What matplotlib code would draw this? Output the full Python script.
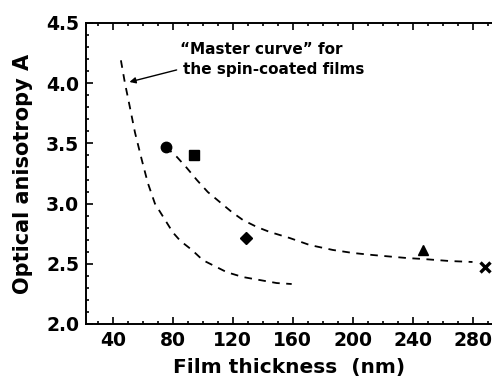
import matplotlib
matplotlib.use('Agg')
import matplotlib.pyplot as plt
from matplotlib.ticker import MultipleLocator, FormatStrFormatter

plt.rcParams['font.family'] = ['DejaVu Sans']
plt.rcParams['font.weight'] = 'bold'

# measured films (thickness nm, anisotropy)
circle_x, circle_y = [75.3], [3.47]
square_x, square_y = [94], [3.40]
diamond_x, diamond_y = [128.7], [2.714]
triangle_x, triangle_y = [246.7], [2.615]
cross_x, cross_y = [288], [2.473]

# "master curve" for spin-coated films
master_x = [45.3, 48, 51.3, 54.7, 59.3, 63.3, 68, 72, 76, 80, 85, 92.7,
            100, 108, 116, 126.7, 138, 149.3, 159.3]
master_y = [4.19, 4.00, 3.80, 3.59, 3.36, 3.17, 3.00, 2.92, 2.84, 2.76, 2.69, 2.615,
            2.53, 2.48, 2.43, 2.39, 2.365, 2.34, 2.332]

# second fit through the other films
fit_x = [75.3, 82.7, 89.3, 96, 103.3, 111.3, 119.3, 126.7, 136, 144.7, 158,
         171.3, 186.7, 200, 213.3, 236, 246.7, 264.7, 280]
fit_y = [3.47, 3.387, 3.296, 3.196, 3.096, 3.013, 2.93, 2.864, 2.806, 2.764, 2.714,
         2.656, 2.615, 2.59, 2.573, 2.548, 2.54, 2.523, 2.515]

fig = plt.figure(figsize=(4.92, 3.80), dpi=100)
ax = fig.add_axes([0.1748, 0.1474, 0.8252, 0.7921])

ls = dict(color='black', lw=1.3, linestyle=(0, (4.2, 3.6)))
ax.plot(master_x, master_y, **ls)
ax.plot(fit_x, fit_y, **ls)

ax.plot(circle_x, circle_y, 'o', color='black', ms=7.5)
ax.plot(square_x, square_y, 's', color='black', ms=6.5)
ax.plot(diamond_x, diamond_y, 'D', color='black', ms=6)
ax.plot(triangle_x, triangle_y, '^', color='black', ms=7.5)
ax.plot(cross_x, cross_y, 'x', color='black', ms=7, mew=2.4)

ax.annotate('', xy=(51, 4.01), xytext=(82.5, 4.11),
            arrowprops=dict(arrowstyle='-|>', color='black', lw=1.0,
                            mutation_scale=9, shrinkA=0, shrinkB=0))
ax.text(85, 4.28, '\u201cMaster curve\u201d for', fontsize=11,
        fontweight='bold', ha='left', va='center')
ax.text(87, 4.11, 'the spin-coated films', fontsize=11,
        fontweight='bold', ha='left', va='center')

ax.set_xlim(22, 293)
ax.set_ylim(2.0, 4.5)
ax.xaxis.set_major_locator(MultipleLocator(40))
ax.xaxis.set_minor_locator(MultipleLocator(10))
ax.yaxis.set_major_locator(MultipleLocator(0.5))
ax.yaxis.set_minor_locator(MultipleLocator(0.1))
ax.yaxis.set_major_formatter(FormatStrFormatter('%.1f'))

ax.spines['right'].set_visible(False)
for s in ['left', 'top', 'bottom']:
    ax.spines[s].set_linewidth(1.4)
ax.tick_params(which='both', direction='in', top=True, right=False, width=1.2,
               labelsize=13.5, pad=5)
ax.tick_params(which='major', length=5)
ax.tick_params(which='minor', length=2.5)
for lab in ax.get_xticklabels() + ax.get_yticklabels():
    lab.set_fontweight('bold')

ax.set_xlabel('Film thickness  (nm)', fontsize=14.5, fontweight='bold', labelpad=6)
ax.set_ylabel('Optical anisotropy A', fontsize=15, fontweight='bold', labelpad=9)

fig.savefig('out.png', dpi=100)
